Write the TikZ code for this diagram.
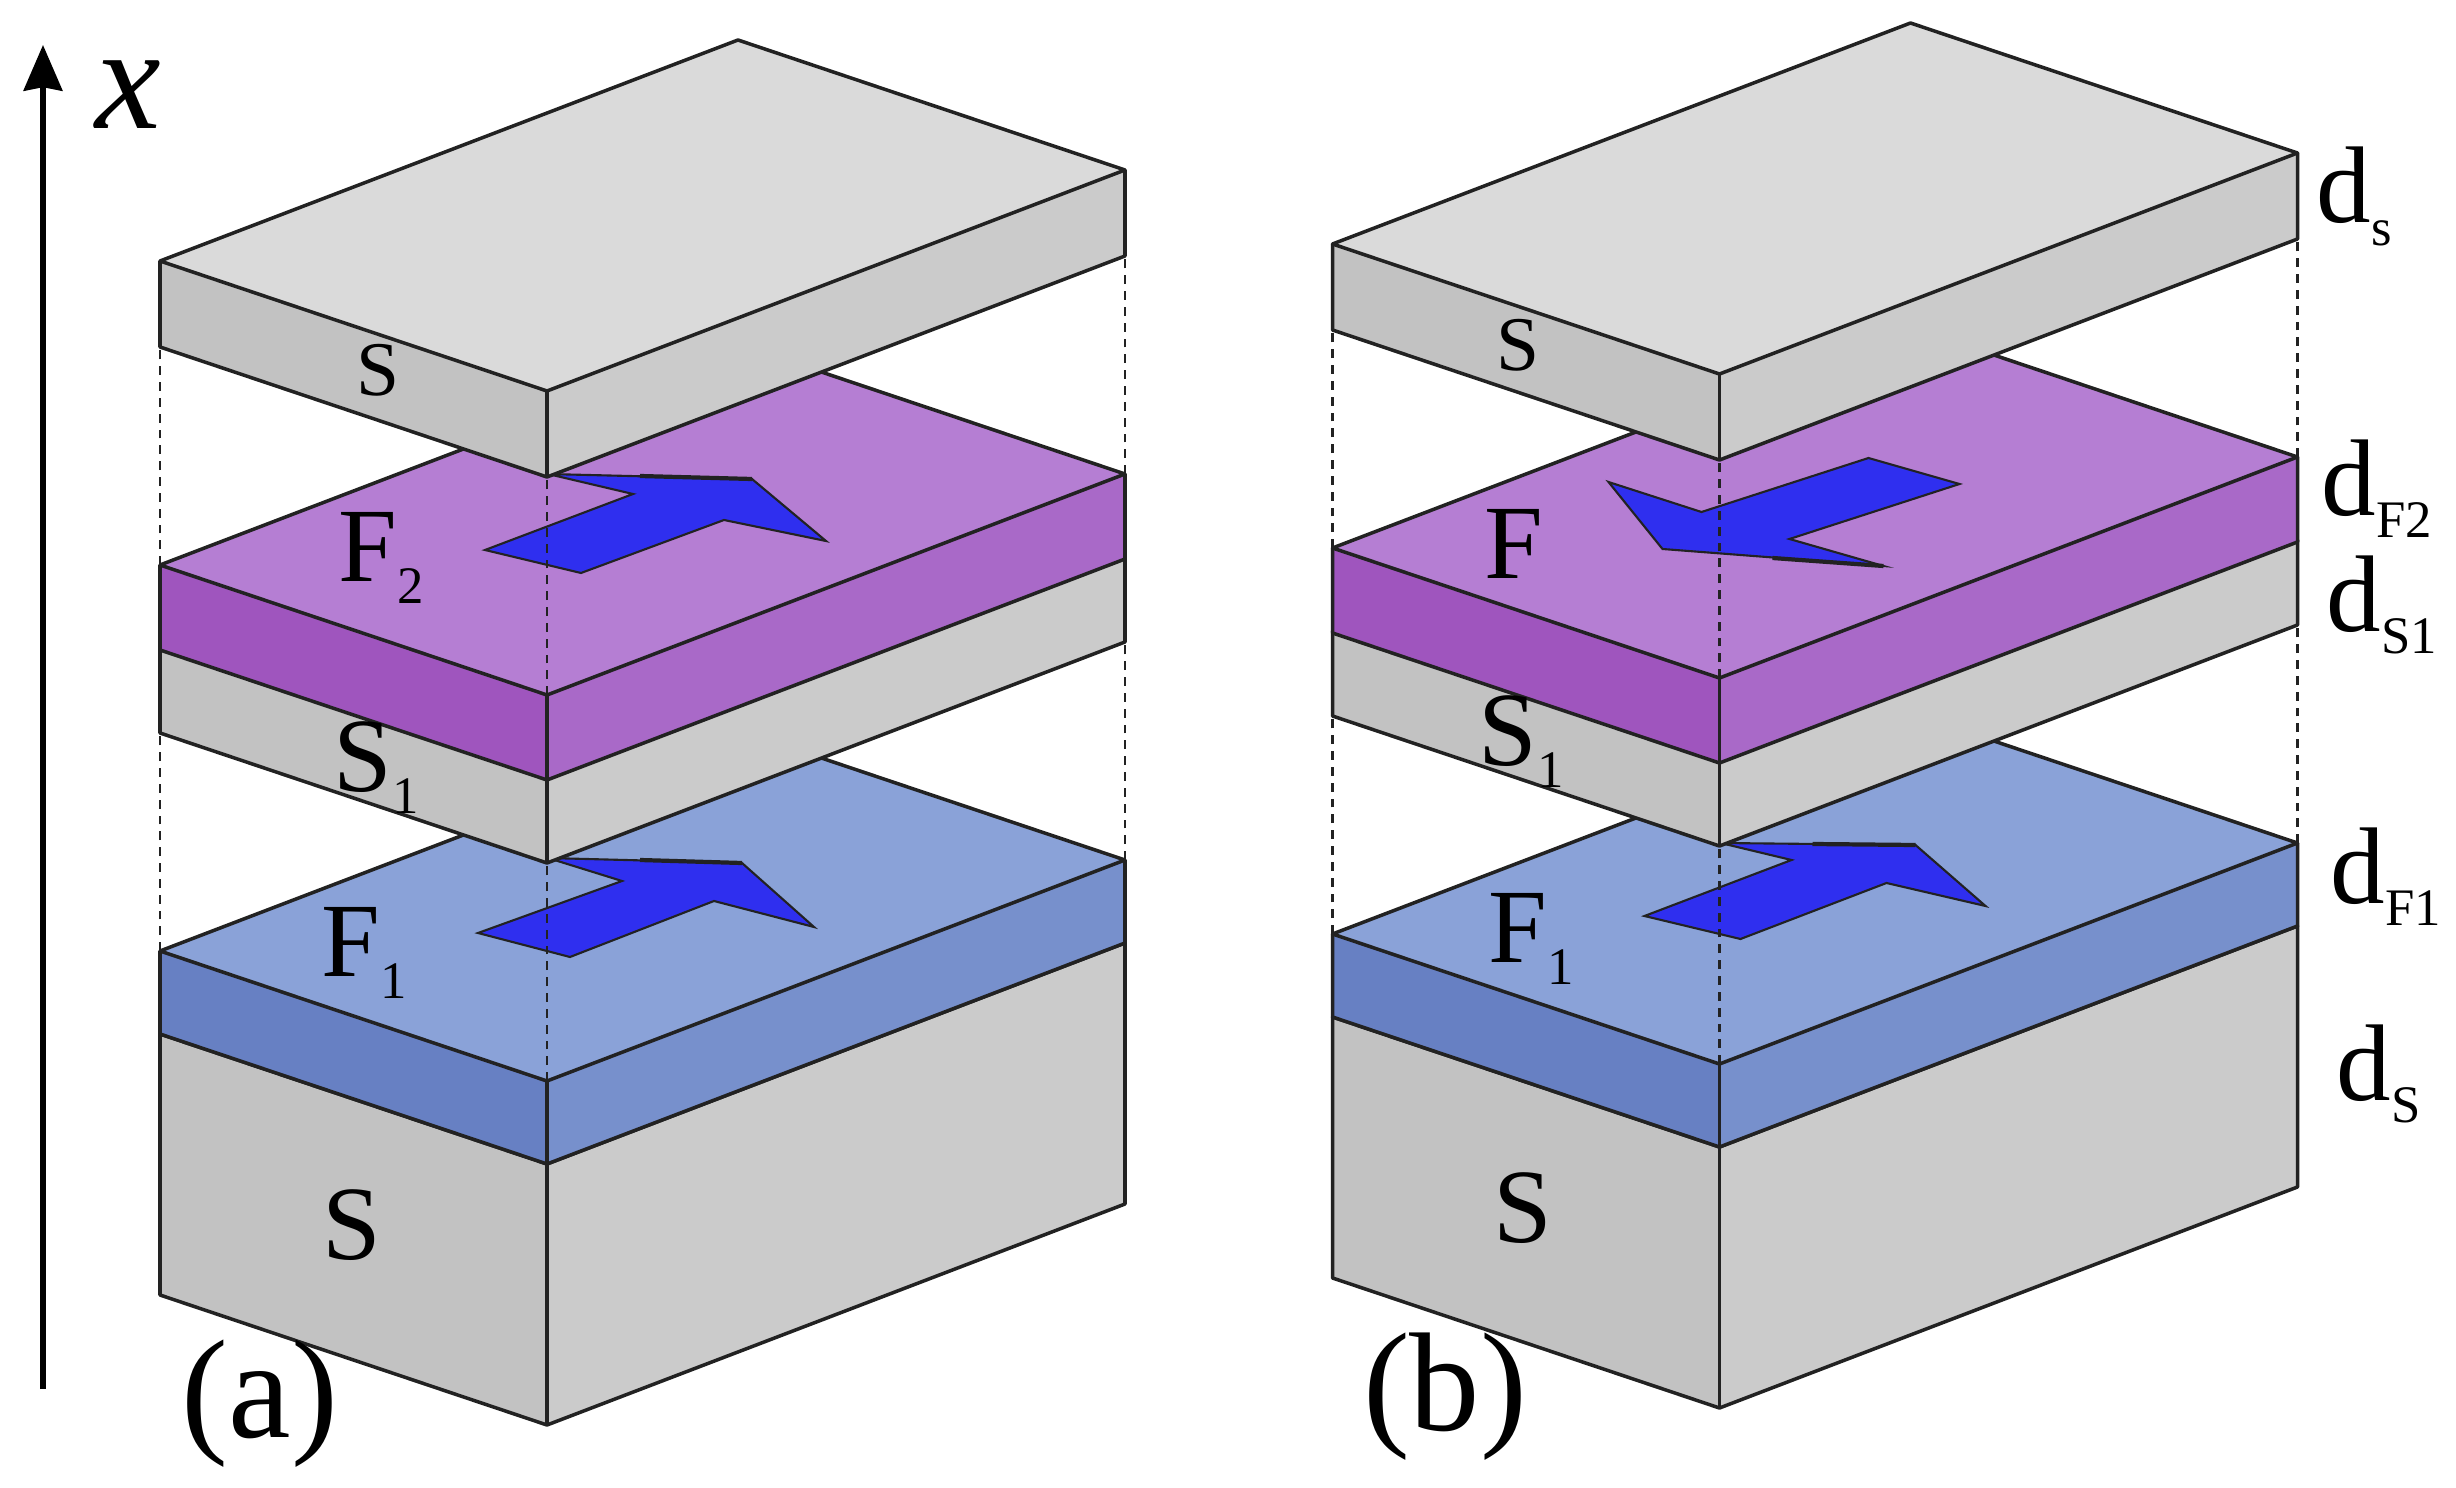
\documentclass[tikz,border=0pt]{standalone}
\usepackage{fontspec}
\setmainfont{Liberation Serif}
\usepackage{xcolor}
\usetikzlibrary{arrows.meta}
\definecolor{gtop}{HTML}{DADADA}
\definecolor{gright}{HTML}{CBCBCB}
\definecolor{gleft}{HTML}{C2C2C2}
\definecolor{ptop}{HTML}{B57ED3}
\definecolor{pright}{HTML}{A969C8}
\definecolor{pleft}{HTML}{9F55BE}
\definecolor{btop}{HTML}{8AA2D8}
\definecolor{bright}{HTML}{7790CC}
\definecolor{bleft}{HTML}{6780C3}
\definecolor{dedge}{HTML}{222222}
\definecolor{moment}{HTML}{2F2FEF}
\tikzset{
  % Faces of a layer share one dark outline.
  face/.style  = {draw=dedge, line width=1pt, line join=round},
  guide/.style = {draw=dedge, line width=0.6pt, dash pattern=on 2.5pt off 2pt},
  mom/.style   = {draw=dedge, fill=moment, line width=0.6pt, line join=miter},
  momedge/.style = {draw=dedge, line width=1.2pt},
  lay/.style   = {inner sep=0pt, anchor=base west, font=\fontsize{30}{36}\selectfont},
  thk/.style   = {inner sep=0pt, anchor=base west, font=\fontsize{31}{36}\selectfont},
  tag/.style   = {inner sep=0pt, anchor=base, font=\fontsize{40}{48}\selectfont},
}
\newcommand{\subtxt}[1]{\raisebox{-6.5pt}{\fontsize{15}{15}\selectfont #1}}
% top-left y, height, then left, right and top colour
\newcommand{\slab}[5]{%
  \fill[#3] (160,#1) -- (547,#1+130) -- (547,#1+130+#2) -- (160,#1+#2) -- cycle;
  \fill[#4] (547,#1+130) -- (1125,#1-91) -- (1125,#1-91+#2) -- (547,#1+130+#2) -- cycle;
  \draw[face, fill=#5] (160,#1) -- (738,#1-221) -- (1125,#1-91) -- (547,#1+130) -- cycle;
  \draw[face] (160,#1) -- (160,#1+#2) -- (547,#1+130+#2) -- (1125,#1-91+#2) -- (1125,#1-91);
  \draw[face] (547,#1+130) -- (547,#1+130+#2);
}
% dotted links from one layer up to the next
\newcommand{\links}[1]{%
  \draw[guide] (160,#1) -- (160,#1-219);
  \draw[guide] (547,#1+130) -- (547,#1-91);
  \draw[guide] (1125,#1-91) -- (1125,#1-310);
}
\begin{document}
\begin{tikzpicture}[x=0.01cm,y=-0.01cm]
\useasboundingbox (0,0) rectangle (2456,1488);
% axis
\coordinate (axisbot) at (43,1389);
\coordinate (axistop) at (43,45);
\draw[-{Stealth[length=13pt,width=11pt,inset=1pt]}, line width=1.5pt, black] (axisbot) -- (axistop);
\node[inner sep=0pt, anchor=base, font=\fontsize{42}{50}\itshape] (axislbl) at (128,129) {x};
% panel a
\begin{scope}
  \slab{1034}{261}{gleft}{gright}{gleft}
  \slab{951}{83}{bleft}{bright}{btop}
  \draw[mom] (478,933) -- (570,957) -- (714,901) -- (814,927) -- (742,863) -- (548,858) -- (622,881) -- cycle;
  \draw[momedge] (640,860) -- (742,863);
  \links{951}
  \slab{648}{85}{gleft}{gright}{gleft}
  \slab{565}{85}{pleft}{pright}{ptop}
  \draw[mom] (485,550) -- (581,573) -- (724,520) -- (826,541) -- (752,479) -- (548,474) -- (633,494) -- cycle;
  \draw[momedge] (640,476) -- (752,479);
  \links{565}
  \slab{261}{86}{gleft}{gright}{gtop}
\end{scope}
% panel b
\begin{scope}[shift={(1172.5,-17)}]
  \slab{1034}{261}{gleft}{gright}{gleft}
  \slab{951}{83}{bleft}{bright}{btop}
  \draw[mom] (472,933) -- (568,956) -- (714,900) -- (813,923) -- (743,862) -- (548,860) -- (619,877) -- cycle;
  \draw[momedge] (640,861) -- (743,862);
  \links{951}
  \slab{648}{85}{gleft}{gright}{gleft}
  \slab{565}{85}{pleft}{pright}{ptop}
  \draw[mom] (787,501) -- (696,475) -- (529,529) -- (436,499) -- (490,566) -- (711,583) -- (617,556) -- cycle;
  \draw[momedge] (600,575) -- (711,583);
  \links{565}
  \slab{261}{86}{gleft}{gright}{gtop}
\end{scope}
% layer names
\node[lay, font=\fontsize{22}{26}\selectfont] (sa) at (356,396) {S};
\node[lay] (ftwoa) at (338,581) {F\subtxt{2}};
\node[lay] (sonea) at (333,791) {S\subtxt{1}};
\node[lay] (fonea) at (321,976) {F\subtxt{1}};
\node[lay] (sbota) at (322,1259) {S};
\node[lay, font=\fontsize{22}{26}\selectfont] (sb) at (1496,370) {S};
\node[lay] (fb) at (1484,578) {F};
\node[lay] (soneb) at (1478,765) {S\subtxt{1}};
\node[lay] (foneb) at (1488,962) {F\subtxt{1}};
\node[lay] (sbotb) at (1493,1242) {S};
% thicknesses
\node[thk] (ds) at (2316,223) {d\subtxt{s}};
\node[thk] (dftwo) at (2321,515) {d\subtxt{F2}};
\node[thk] (dsone) at (2326,631) {d\subtxt{S1}};
\node[thk] (dfone) at (2330,903) {d\subtxt{F1}};
\node[thk] (dsbot) at (2336,1100) {d\subtxt{S}};
% panel tags
\node[tag] (taga) at (260,1437) {(a)};
\node[tag] (tagb) at (1445,1430) {(b)};
\end{tikzpicture}
\end{document}
